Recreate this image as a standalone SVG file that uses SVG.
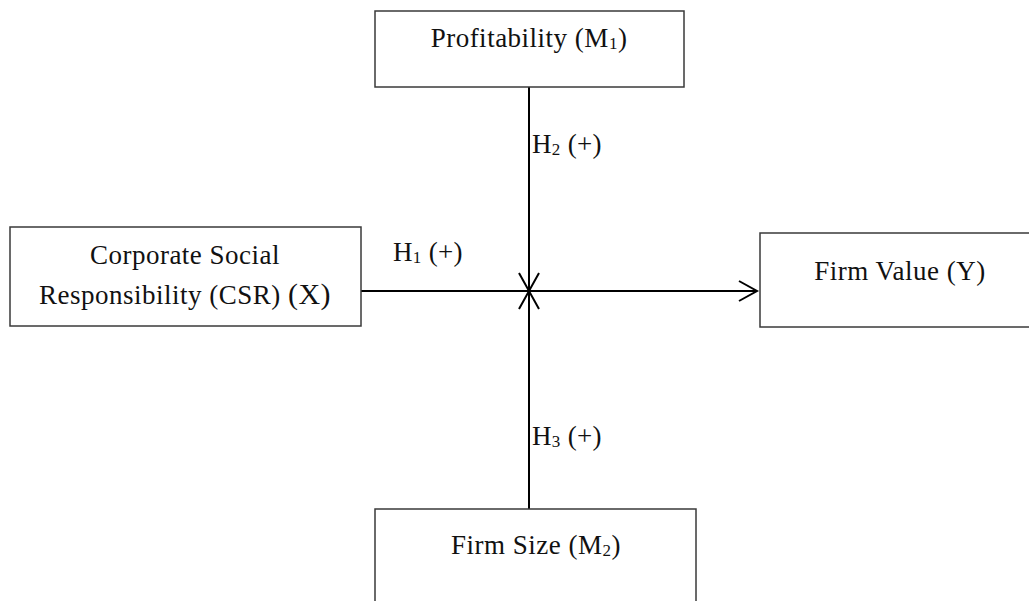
<svg xmlns="http://www.w3.org/2000/svg" width="1029" height="601" viewBox="0 0 1029 601">
<style>
.box{fill:#fff;stroke:#3a3a3a;stroke-width:1.5}
.t{font-family:"Liberation Serif",serif;font-size:27px;letter-spacing:0.5px;fill:#111;text-anchor:middle}
.h{font-family:"Liberation Serif",serif;font-size:27px;letter-spacing:0.3px;fill:#111}
.edge{stroke:#000;stroke-width:2;fill:none}
.sub{font-size:17px}
</style>
<defs>
<marker id="arr" markerUnits="userSpaceOnUse" markerWidth="24" markerHeight="24" viewBox="-20 -12 24 24" refX="0" refY="0" orient="auto">
<path d="M-18,-10 L0,0 L-18,10" fill="none" stroke="#000" stroke-width="2"/>
</marker>
</defs>
<rect width="1029" height="601" fill="#fff"/>
<g id="connectors">
<line class="edge" x1="529" y1="87" x2="529" y2="291" marker-end="url(#arr)"/>
<line class="edge" x1="529" y1="509" x2="529" y2="291" marker-end="url(#arr)"/>
<line class="edge" x1="361" y1="291" x2="757" y2="291" marker-end="url(#arr)"/>
</g>
<g id="profitability">
<rect class="box" x="375" y="11" width="309" height="76"/>
<text class="t" x="529" y="47">Profitability (M<tspan class="sub" dy="2">1</tspan><tspan dy="-2">)</tspan></text>
</g>
<g id="csr">
<rect class="box" x="10" y="227" width="351" height="99"/>
<text class="t" x="185" y="264">Corporate Social</text>
<text class="t" x="185" y="304">Responsibility (CSR) <tspan font-size="30">(X)</tspan></text>
</g>
<g id="firmvalue">
<rect class="box" x="760" y="233" width="280" height="94"/>
<text class="t" x="900" y="280">Firm Value (Y)</text>
</g>
<g id="firmsize">
<rect class="box" x="375" y="509" width="321" height="110"/>
<text class="t" x="536" y="554">Firm Size (M<tspan class="sub" dy="2">2</tspan><tspan dy="-2">)</tspan></text>
</g>
<g id="labels">
<text class="h" x="393" y="261">H<tspan class="sub" dy="2">1</tspan><tspan dy="-2"> (+)</tspan></text>
<text class="h" x="532" y="153">H<tspan class="sub" dy="2">2</tspan><tspan dy="-2"> (+)</tspan></text>
<text class="h" x="532" y="445">H<tspan class="sub" dy="2">3</tspan><tspan dy="-2"> (+)</tspan></text>
</g>
</svg>
